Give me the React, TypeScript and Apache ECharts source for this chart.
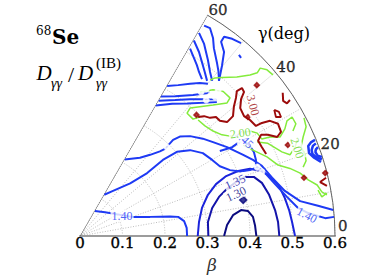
import React, { useEffect, useRef } from 'react';
import * as echarts from 'echarts';

// tick labels
const betaTickLabels = ['0', '0.1', '0.2', '0.3', '0.4', '0.5', '0.6'];
const gammaTicks = [0, 20, 40, 60];

// contour lines, points as [β·cosγ, β·sinγ]
const c140Left = [[0.035,0.059],[0.059,0.056],[0.122,0.045],[0.165,0.045],[0.212,0.046],[0.231,0.045],[0.245,0.035],[0.251,0.019],[0.252,0]];
const c140U = [[0.277,0],[0.280,0.033],[0.287,0.066],[0.301,0.097],[0.320,0.122],[0.344,0.141],[0.372,0.153],[0.400,0.158],[0.426,0.153],[0.447,0.141],[0.468,0.118],[0.482,0.089],[0.492,0.061],[0.499,0.033],[0.506,0]];
const c135U = [[0.302,0],[0.301,0.033],[0.311,0.066],[0.327,0.092],[0.346,0.111],[0.367,0.127],[0.388,0.139],[0.409,0.139],[0.428,0.125],[0.445,0.097],[0.459,0.061],[0.466,0.033],[0.469,0]];
const c130U = [[0.339,0],[0.346,0.026],[0.360,0.049],[0.379,0.061],[0.395,0.059],[0.407,0.045],[0.412,0.024],[0.415,0]];
const c140B = [[0.057,0.097],[0.075,0.105],[0.118,0.124],[0.158,0.148],[0.195,0.179],[0.228,0.198],[0.259,0.202],[0.289,0.195],[0.311,0.179],[0.329,0.164],[0.353,0.155],[0.377,0.152],[0.400,0.155],[0.417,0.162],[0.433,0.151],[0.459,0.122],[0.487,0.092],[0.513,0.066],[0.537,0.054],[0.560,0.047],[0.577,0.042],[0.598,0.045]];
const c145C = [[0.105,0.180],[0.141,0.184],[0.165,0.191],[0.188,0.199],[0.200,0.205],[0.219,0.226],[0.235,0.234],[0.259,0.235],[0.289,0.229],[0.313,0.221],[0.346,0.209],[0.384,0.191],[0.407,0.179],[0.428,0.165],[0.452,0.137],[0.482,0.106],[0.518,0.082],[0.560,0.071],[0.596,0.061]];
const c145D = [[0.329,0.200],[0.358,0.209],[0.372,0.219],[0.384,0.224],[0.398,0.214],[0.409,0.198],[0.414,0.179],[0.414,0.165]];
const c145H1 = [[0.205,0.353],[0.231,0.355],[0.259,0.358],[0.282,0.360],[0.301,0.358]];
const c145H2 = [[0.190,0.328],[0.224,0.329],[0.266,0.332],[0.306,0.337]];
const c145H3 = [[0.185,0.318],[0.224,0.320],[0.259,0.322],[0.322,0.322]];
const c145H4 = [[0.178,0.307],[0.217,0.311],[0.252,0.312],[0.322,0.315]];
const c145V1 = [[0.259,0.441],[0.268,0.419],[0.275,0.402],[0.280,0.386],[0.287,0.369]];
const c145V2 = [[0.268,0.460],[0.280,0.433],[0.289,0.402],[0.294,0.384],[0.299,0.365]];
const c145V3 = [[0.280,0.478],[0.292,0.452],[0.301,0.414],[0.306,0.386],[0.311,0.365]];
const c145V4 = [[0.292,0.495],[0.306,0.489],[0.313,0.466],[0.315,0.442],[0.322,0.409],[0.326,0.386],[0.327,0.365]];
const c145V5 = [[0.327,0.365],[0.334,0.400],[0.339,0.433],[0.332,0.457],[0.339,0.469],[0.358,0.464],[0.379,0.454]];
const c145Dash = [[0.374,0.426],[0.379,0.419]];
const c145Ca = [[0.553,0.226],[0.544,0.221],[0.537,0.212],[0.539,0.195],[0.551,0.184],[0.567,0.174]];
const c145Cb = [[0.555,0.218],[0.548,0.212],[0.545,0.202],[0.547,0.193],[0.555,0.186],[0.569,0.180]];
const c145Cc = [[0.560,0.209],[0.555,0.204],[0.554,0.197],[0.559,0.189],[0.569,0.186]];
const blueIslands = [[0.205,0.209],[0.377,0.219],[0.417,0.162],[0.428,0.151],[0.273,0.348],[0.285,0.339],[0.297,0.346],[0.308,0.332],[0.318,0.327],[0.325,0.341],[0.297,0.320]];
const navyIslands = [[0.384,0.085]];

const c200A = [[0.306,0.367],[0.318,0.372],[0.334,0.373],[0.369,0.374],[0.400,0.379],[0.417,0.384],[0.424,0.395],[0.440,0.391],[0.454,0.379]];
const c200B = [[0.282,0.339],[0.313,0.344],[0.337,0.340],[0.353,0.325],[0.346,0.313],[0.313,0.308],[0.282,0.304],[0.259,0.301],[0.252,0.289],[0.266,0.275],[0.282,0.280]];
const c200C = [[0.278,0.273],[0.294,0.259],[0.313,0.247],[0.334,0.238],[0.353,0.235],[0.400,0.247],[0.417,0.242],[0.428,0.228],[0.447,0.233],[0.471,0.233],[0.482,0.252],[0.487,0.271],[0.499,0.280],[0.508,0.264],[0.501,0.247]];
const c200D = [[0.384,0.214],[0.407,0.202],[0.440,0.186],[0.466,0.167],[0.494,0.159],[0.518,0.148],[0.537,0.132],[0.558,0.120],[0.569,0.104],[0.581,0.097]];
const c200E = [[0.417,0.221],[0.442,0.218],[0.475,0.198],[0.494,0.191],[0.506,0.209],[0.511,0.226]];
const c200F = [[0.527,0.278],[0.532,0.257],[0.525,0.233],[0.520,0.209],[0.529,0.193],[0.532,0.177],[0.525,0.162]];
const c200G = [[0.560,0.108],[0.569,0.092],[0.581,0.101]];
const greenIslands = [[0.511,0.115]];

const c300A = [[0.278,0.280],[0.292,0.282],[0.306,0.278],[0.320,0.280],[0.329,0.271],[0.346,0.268],[0.360,0.282],[0.362,0.304],[0.367,0.325],[0.369,0.341],[0.381,0.348],[0.386,0.339],[0.379,0.322],[0.377,0.301],[0.386,0.282],[0.400,0.273],[0.414,0.259],[0.428,0.266],[0.447,0.271],[0.466,0.264],[0.473,0.245],[0.464,0.233],[0.442,0.238],[0.426,0.238],[0.419,0.224],[0.428,0.209],[0.438,0.193]];
const c300B = [[0.477,0.337],[0.478,0.318],[0.487,0.312],[0.494,0.320]];
const c300C = [[0.457,0.297],[0.468,0.292],[0.473,0.280],[0.461,0.280],[0.457,0.297]];
const c300D = [[0.579,0.137],[0.565,0.127],[0.581,0.118]];
const redIslands = [[0.416,0.355],[0.489,0.214],[0.395,0.280],[0.274,0.285],[0.527,0.137],[0.577,0.148]];

// contour labels
const labelTexts = ['1.40', '1.40', '1.35', '1.30', '1.45', '2.00', '2.00', '3.00'];
const labelPts = [[0.099,0.047],[0.534,0.049],[0.365,0.127],[0.367,0.099],[0.386,0.228],[0.377,0.242],[0.511,0.207],[0.407,0.308]];

const toPolar = (pts: number[][]) =>
  pts.map(([x, y]) => [Math.hypot(x, y), (Math.atan2(y, x) * 180) / Math.PI]);

const COL130 = '#0b0b80';
const COL135 = '#1414aa';
const COL140 = '#1b24dc';
const COL145 = '#1e3af4';
const GREEN = '#84ec3c';
const RED = '#9c0b0b';

export default function App() {
  const ref = useRef<HTMLDivElement>(null);
  useEffect(() => {
    const chart = echarts.init(ref.current!, null, { renderer: 'svg' });
    const line = (pts: number[][], color: string, width: number) => ({
      type: 'line',
      coordinateSystem: 'polar',
      data: toPolar(pts),
      symbol: 'none',
      silent: true,
      clip: false,
      z: 3,
      lineStyle: { color, width },
    });
    const islands = (pts: number[][], color: string, symbol: string, size: number) => ({
      type: 'scatter',
      coordinateSystem: 'polar',
      data: toPolar(pts),
      symbol,
      symbolSize: size,
      silent: true,
      clip: false,
      z: 3,
      itemStyle: { color: symbol.startsWith('empty') ? '#fff' : color, borderColor: color, borderWidth: 1.5 },
    });
    const rotations = [0, -28, 25, 25, -45, 8, -72, -75];
    const labelColors = [COL145, COL145, COL135, COL130, COL145, '#5fd424', '#5fd424', RED];
    const dotted = { color: '#a0a0a0', width: 0.7, type: [1, 1.6] };
    const serif = 'DejaVu Serif';
    const tickText = {
      color: '#000', fontFamily: serif, fontSize: 15,
      textBorderColor: '#000', textBorderWidth: 0.35,
    };
    const txt = (x: number, y: number, text: string, font: string) => ({
      type: 'text', x, y,
      style: { text, font, fill: '#000', align: 'left', verticalAlign: 'middle' },
    });
    const option: any = {
      animation: false,
      backgroundColor: '#fff',
      polar: { center: [80, 236], radius: [0, 255] },
      angleAxis: {
        type: 'value', min: 0, max: 60, interval: 10,
        startAngle: 0, endAngle: 60, clockwise: false,
        axisLine: { show: true, lineStyle: { color: '#666', width: 1 } },
        axisTick: { show: false }, axisLabel: { show: false },
        splitLine: { show: true, lineStyle: dotted },
      },
      radiusAxis: {
        type: 'value', min: 0, max: 0.6, interval: 0.1,
        axisLine: { show: true, lineStyle: { color: '#9c9c9c', width: 2 } },
        axisTick: { show: false }, axisLabel: { show: false },
        splitLine: { show: true, lineStyle: dotted },
      },
      grid: { left: 80, width: 255, top: 10, bottom: 42 },
      xAxis: {
        type: 'value', min: 0, max: 0.6, interval: 0.1,
        axisLine: { show: false }, axisTick: { show: false }, splitLine: { show: false },
        axisLabel: {
          margin: 10, ...tickText,
          formatter: (_v: number, i: number) => betaTickLabels[i],
        },
        name: 'β', nameLocation: 'middle', nameGap: 29,
        nameTextStyle: { fontFamily: serif, fontStyle: 'italic', fontSize: 17, color: '#333', padding: [0, 0, 0, 9] },
      },
      yAxis: { type: 'value', show: false, min: 0, max: 1 },
      graphic: [
        txt(36, 31, '68', '12px "DejaVu Serif"'),
        txt(52, 37, 'Se', 'bold 20px "DejaVu Serif"'),
        txt(36.5, 73, 'D', 'italic 21px "Liberation Serif"'),
        txt(51, 83, 'γγ', 'italic 14px "Liberation Serif"'),
        txt(68, 74, '/', '22px "Liberation Serif"'),
        txt(78, 73, 'D', 'italic 21px "Liberation Serif"'),
        txt(96, 63, '(IB)', '15px "Liberation Serif"'),
        txt(96, 83, 'γγ', 'italic 14px "Liberation Serif"'),
        txt(258, 33, 'γ(deg)', '16px "DejaVu Serif"'),
      ],
      series: [
        { type: 'line', coordinateSystem: 'polar', data: [[0, 60], [0.6, 60]], symbol: 'none', silent: true, clip: false, z: 2, lineStyle: { color: '#555', width: 1 } },
        line(c130U, COL130, 2),
        line(c135U, COL135, 2),
        line(c140U, COL140, 2),
        line(c140Left, COL145, 2),
        line(c140B, COL145, 2),
        line(c145C, COL145, 2),
        line(c145D, COL145, 2),
        line(c145H1, COL145, 2), line(c145H2, COL145, 2), line(c145H3, COL145, 2), line(c145H4, COL145, 2),
        line(c145V1, COL145, 2), line(c145V2, COL145, 2), line(c145V3, COL145, 2), line(c145V4, COL145, 2), line(c145V5, COL145, 2),
        line(c145Dash, COL145, 2),
        line(c145Ca, COL145, 2.5), line(c145Cb, COL145, 2.5), line(c145Cc, COL145, 2.5),
        islands(blueIslands, COL145, 'emptyCircle', 5),
        islands(navyIslands, COL130, 'diamond', 7),
        line(c200A, GREEN, 1.5), line(c200B, GREEN, 1.5), line(c200C, GREEN, 1.5), line(c200D, GREEN, 1.5),
        line(c200E, GREEN, 1.5), line(c200F, GREEN, 1.5), line(c200G, GREEN, 1.5),
        islands(greenIslands, GREEN, 'emptyRect', 5),
        line(c300A, RED, 2), line(c300B, RED, 2), line(c300C, RED, 1.8), line(c300D, RED, 2),
        islands(redIslands, RED, 'diamond', 5),
        {
          type: 'scatter', coordinateSystem: 'polar', symbolSize: 0, silent: true, clip: false, z: 6,
          data: toPolar(labelPts).map((v, i) => ({
            value: v,
            label: { formatter: labelTexts[i], rotate: rotations[i], color: labelColors[i] },
          })),
          label: {
            show: true, position: 'inside', fontFamily: 'Liberation Serif', fontSize: 12,
            backgroundColor: '#fff', padding: [0, 1],
          },
        },
        {
          type: 'scatter', coordinateSystem: 'polar', symbolSize: 0, silent: true, clip: false, z: 6,
          data: gammaTicks.map((g) => ({
            value: [0.6, g],
            label: { offset: g === 0 ? [2, -10] : [0, -5] },
          })),
          label: {
            show: true, position: 'right', distance: 1,
            formatter: (p: any) => String(p.value[1]),
            ...tickText,
          },
        },
      ],
    };
    chart.setOption(option);
    return () => chart.dispose();
  }, []);
  return <div ref={ref} style={{ position: 'absolute', left: 0, top: 0, width: 382, height: 278 }} />;
}
